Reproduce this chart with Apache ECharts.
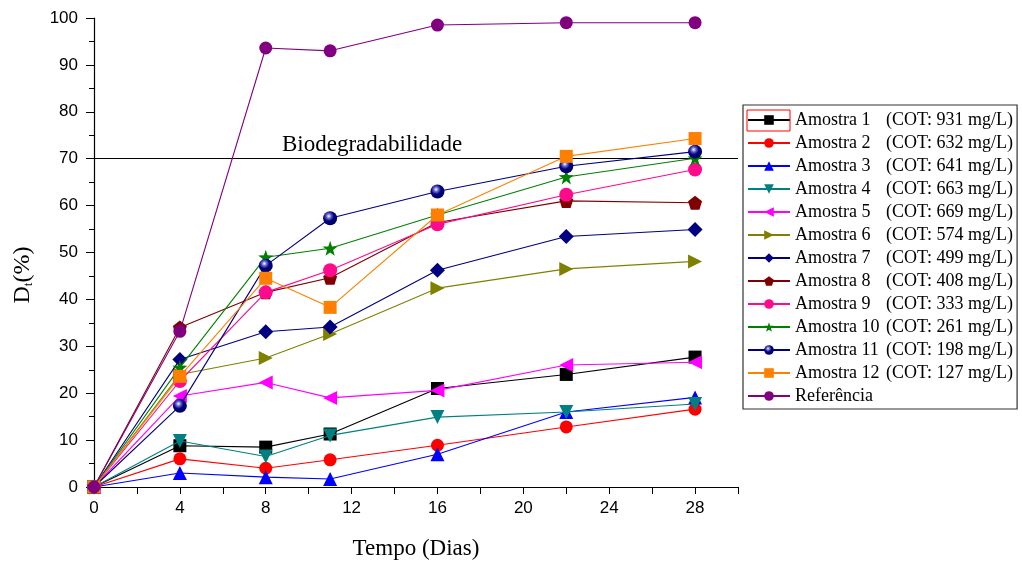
<!DOCTYPE html>
<html>
<head>
<meta charset="utf-8">
<script src="https://cdn.jsdelivr.net/npm/echarts@6/dist/echarts.min.js"></script>
<style>html,body{margin:0;padding:0;background:#fff}#c{width:1022px;height:565px}</style>
</head>
<body>
<div id="c"></div>
<script>
var days = [0, 4, 8, 11, 16, 22, 28];
var names = ['Amostra 1','Amostra 2','Amostra 3','Amostra 4','Amostra 5','Amostra 6','Amostra 7','Amostra 8','Amostra 9','Amostra 10','Amostra 11','Amostra 12','Referência'];
var cot = ['931','632','641','663','669','574','499','408','333','261','198','127',null];
var a1 = [0, 8.8, 8.5, 11.3, 21.0, 24.0, 27.7];
var a2 = [0, 6.0, 4.0, 5.8, 8.9, 12.8, 16.6];
var a3 = [0, 3.0, 2.1, 1.7, 7.0, 16.0, 19.1];
var a4 = [0, 9.8, 6.5, 11.0, 14.9, 16.0, 17.7];
var a5 = [0, 19.4, 22.3, 19.0, 20.6, 26.0, 26.6];
var a6 = [0, 24.0, 27.5, 32.6, 42.4, 46.5, 48.1];
var a7 = [0, 27.2, 33.1, 34.1, 46.2, 53.4, 54.9];
var a8 = [0, 34.0, 41.5, 44.6, 56.4, 61.0, 60.6];
var a9 = [0, 22.6, 41.5, 46.2, 56.0, 62.3, 67.7];
var a10 = [0, 25.5, 49.0, 50.9, 58.0, 66.1, 70.1];
var a11 = [0, 17.3, 47.2, 57.3, 63.0, 68.4, 71.5];
var a12 = [0, 23.6, 44.5, 38.3, 58.0, 70.5, 74.3];
var ref = [0, 33.2, 93.6, 93.0, 98.5, 99.0, 99.0];
var thresholdValue = 70;
var thresholdLabel = 'Biodegradabilidade';

var values = [a1,a2,a3,a4,a5,a6,a7,a8,a9,a10,a11,a12,ref];
var colors = ['#000000','#ff0000','#0000ff','#008080','#ff00ff','#808000','#000080','#800000','#ff0a8c','#008000','#000080','#ff8000','#800080'];
var PENT = 'path://M0,-10 L9.51,-3.09 L5.88,8.09 L-5.88,8.09 L-9.51,-3.09Z';
var STAR = 'path://M0,-10 L2.35,-3.24 L9.51,-3.09 L3.8,1.24 L5.88,8.09 L0,4 L-5.88,8.09 L-3.8,1.24 L-9.51,-3.09 L-2.35,-3.24Z';
var DOWN = 'path://M-10,-8 L10,-8 L0,9Z';
var LEFT = 'path://M-9,0 L8,-10 L8,10Z';
var RIGHT = 'path://M9,0 L-8,-10 L-8,10Z';
var symbols = ['rect','circle','triangle',DOWN,LEFT,RIGHT,'diamond',PENT,'circle',STAR,'circle','rect','circle'];
var sizes = [13,13,14,14,14,14,15,14,14,15,14,13,13];

var series = names.map(function(n, i){
  var color = colors[i];
  if (i === 10) {
    color = {type:'radial', x:0.4, y:0.35, r:0.65, colorStops:[{offset:0,color:'#ffffff'},{offset:0.25,color:'#6a6ad0'},{offset:0.55,color:'#000080'},{offset:1,color:'#000060'}]};
  }
  var s = {
    name: n, type: 'line',
    data: days.map(function(d, j){ return [d, values[i][j]]; }),
    symbol: symbols[i], symbolSize: sizes[i],
    lineStyle: {color: colors[i], width: 1.1},
    itemStyle: {color: color, borderWidth: 0},
    z: 2 + i, animation: false
  };
  if (i === 12) {
    s.markLine = {
      silent: true, symbol: 'none',
      lineStyle: {color: '#000', width: 1.2, type: 'solid'},
      label: {show: false},
      data: [{yAxis: thresholdValue}]
    };
  }
  return s;
});

var serif = 'Liberation Serif';
var chart = echarts.init(document.getElementById('c'));
chart.setOption({
  animation: false,
  backgroundColor: '#fff',
  grid: {left: 94, right: 284, top: 18, bottom: 77},
  xAxis: {
    type: 'value', min: 0, max: 30, interval: 4,
    name: 'Tempo (Dias)', nameLocation: 'middle', nameGap: 50,
    nameTextStyle: {fontFamily: serif, fontSize: 23, color: '#000'},
    axisLine: {lineStyle: {color: '#000', width: 1.2}},
    axisTick: {show: true, length: 7, lineStyle: {color: '#000'}},
    minorTick: {show: true, splitNumber: 2, length: 7, lineStyle: {color: '#000'}},
    axisLabel: {fontFamily: 'Liberation Sans', fontSize: 17, color: '#000', margin: 13, showMaxLabel: false},
    splitLine: {show: false}
  },
  yAxis: {
    type: 'value', min: 0, max: 100, interval: 10,
    axisLine: {show: true, lineStyle: {color: '#000', width: 1.2}},
    axisTick: {show: true, length: 8, lineStyle: {color: '#000'}},
    minorTick: {show: true, splitNumber: 2, length: 5, lineStyle: {color: '#000'}},
    axisLabel: {fontFamily: 'Liberation Sans', fontSize: 17, color: '#000', margin: 16},
    splitLine: {show: false}
  },
  legend: {
    orient: 'vertical', left: 743, top: 105,
    itemWidth: 42, itemHeight: 12, itemGap: 5,
    padding: [6, 4, 4, 4],
    backgroundColor: '#fff', borderColor: '#333', borderWidth: 1.2,
    data: names,
    formatter: function(n){
      var i = names.indexOf(n);
      if (cot[i] === null) return '{a|' + n + '}';
      return '{a|' + n + '}{b|(COT: ' + cot[i] + ' mg/L)}';
    },
    textStyle: {
      fontFamily: serif, fontSize: 18, color: '#000', lineHeight: 18,
      rich: {
        a: {fontFamily: serif, fontSize: 18, color: '#000', width: 91, lineHeight: 18},
        b: {fontFamily: serif, fontSize: 18, color: '#000', lineHeight: 18}
      }
    }
  },
  graphic: [
    {type: 'text', left: 282, top: 133, style: {text: thresholdLabel, font: '23px "Liberation Serif"', fill: '#000'}},
    {type: 'text', x: 23, y: 275, rotation: Math.PI / 2,
      style: {text: '{a|D}{s|t}{a|(%)}', align: 'center', verticalAlign: 'middle',
        rich: {a: {fontFamily: serif, fontSize: 24, fill: '#000'}, s: {fontFamily: serif, fontSize: 13, fill: '#000', padding: [12,0,0,0]}}}},
    {type: 'rect', shape: {x: 747, y: 110, width: 43, height: 21}, style: {fill: 'none', stroke: '#ff0000', lineWidth: 1}, z: 100}
  ],
  series: series
});
</script>
</body>
</html>
